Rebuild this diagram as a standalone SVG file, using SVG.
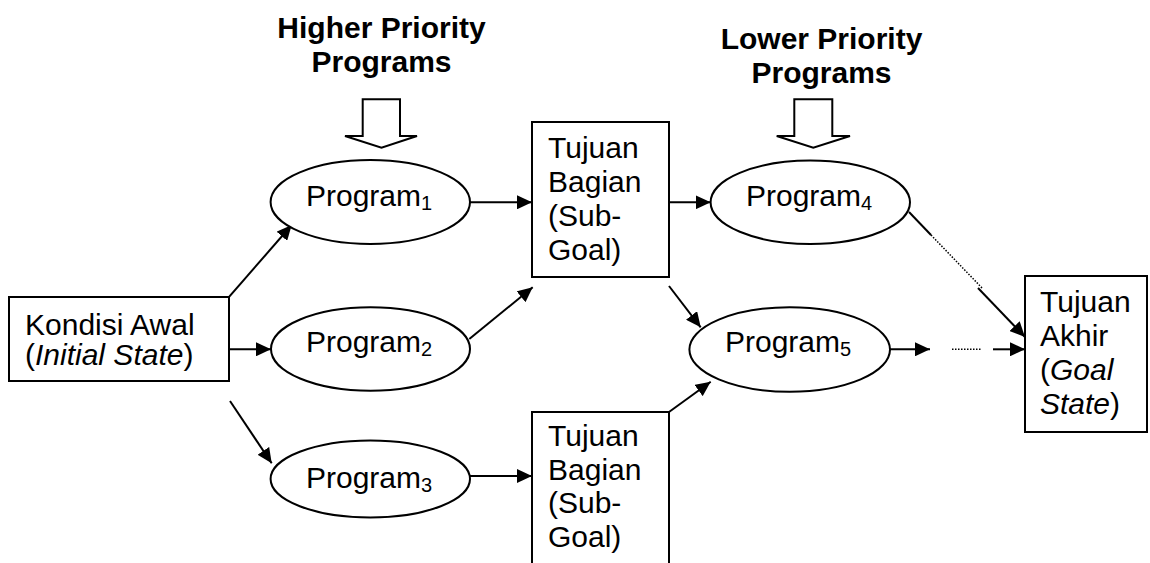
<svg xmlns="http://www.w3.org/2000/svg" width="1150" height="563" viewBox="0 0 1150 563">
<style>
  text { font-family: "Liberation Sans", Arial, sans-serif; font-size: 30px; fill: #000; }
  .title { font-weight: bold; text-anchor: middle; }
  .sub { font-size: 20px; }
  .shape { fill: #fff; stroke: #000; stroke-width: 2; }
  .conn { stroke: #000; stroke-width: 2; fill: none; }
  .dot { stroke: #000; stroke-width: 1.5; stroke-dasharray: 1.5 1.5; fill: none; }
</style>
<defs>
  <marker id="ah" markerUnits="userSpaceOnUse" markerWidth="16" markerHeight="14" refX="15" refY="7" orient="auto">
    <path d="M0,0 L15,7 L0,14 z" fill="#000"/>
  </marker>
</defs>
<rect width="1150" height="563" fill="#fff"/>

<g id="title-higher">
  <text class="title" x="381.5" y="38">Higher Priority</text>
  <text class="title" x="381.5" y="72">Programs</text>
</g>
<g id="title-lower">
  <text class="title" x="821.5" y="49">Lower Priority</text>
  <text class="title" x="821.5" y="83">Programs</text>
</g>

<g id="blockarrow-higher">
  <polygon class="shape" points="362.7,99.3 400,99.3 400,136 417,136 381.5,147.7 345,136 362.7,136"/>
</g>
<g id="blockarrow-lower">
  <polygon class="shape" points="794.3,99.3 832.3,99.3 832.3,136 850,136 813.3,147.7 776.7,136 794.3,136"/>
</g>

<g id="connectors">
  <line class="conn" x1="229.3" y1="296.7" x2="291.7" y2="225" marker-end="url(#ah)"/>
  <line class="conn" x1="229" y1="349.3" x2="271" y2="349.3" marker-end="url(#ah)"/>
  <line class="conn" x1="230" y1="401" x2="271.7" y2="463.3" marker-end="url(#ah)"/>
  <line class="conn" x1="470" y1="202.3" x2="532" y2="202.3" marker-end="url(#ah)"/>
  <line class="conn" x1="469.3" y1="339" x2="532.7" y2="287.3" marker-end="url(#ah)"/>
  <line class="conn" x1="470" y1="476" x2="532" y2="476" marker-end="url(#ah)"/>
  <line class="conn" x1="669" y1="202.3" x2="710.7" y2="202.3" marker-end="url(#ah)"/>
  <line class="conn" x1="669" y1="286" x2="700.7" y2="327.3" marker-end="url(#ah)"/>
  <line class="conn" x1="669" y1="412" x2="710.7" y2="381.7" marker-end="url(#ah)"/>
  <line class="conn" x1="890" y1="349.3" x2="930" y2="349.3" marker-end="url(#ah)"/>
  <line class="dot" x1="952" y1="349.3" x2="982" y2="349.3"/>
  <line class="conn" x1="993" y1="349.3" x2="1025" y2="349.3" marker-end="url(#ah)"/>
  <line class="conn" x1="909" y1="212" x2="931" y2="235"/>
  <line class="dot" x1="931" y1="235" x2="983" y2="289"/>
  <line class="conn" x1="978" y1="288" x2="1025" y2="337" marker-end="url(#ah)"/>
</g>

<g id="kondisi-awal">
  <rect class="shape" x="9" y="297" width="220" height="84"/>
  <text x="25" y="335">Kondisi Awal</text>
  <text x="25" y="365">(<tspan font-style="italic">Initial State</tspan>)</text>
</g>

<g id="program1">
  <ellipse class="shape" cx="370.3" cy="202" rx="99.7" ry="42"/>
  <text x="306" y="206">Program<tspan class="sub" dy="3.5">1</tspan></text>
</g>
<g id="program2">
  <ellipse class="shape" cx="370.5" cy="349" rx="99.5" ry="41.7"/>
  <text x="306" y="352">Program<tspan class="sub" dy="3.5">2</tspan></text>
</g>
<g id="program3">
  <ellipse class="shape" cx="370.3" cy="479" rx="99.7" ry="38.5"/>
  <text x="306" y="488">Program<tspan class="sub" dy="3.5">3</tspan></text>
</g>

<g id="tujuan-bagian-1">
  <rect class="shape" x="532" y="122" width="137" height="155"/>
  <text x="548" y="158">Tujuan</text>
  <text x="548" y="192">Bagian</text>
  <text x="548" y="226">(Sub-</text>
  <text x="548" y="260">Goal)</text>
</g>
<g id="tujuan-bagian-2">
  <rect class="shape" x="532" y="412" width="137" height="170"/>
  <text x="548" y="446">Tujuan</text>
  <text x="548" y="480">Bagian</text>
  <text x="548" y="513">(Sub-</text>
  <text x="548" y="547">Goal)</text>
</g>

<g id="program4">
  <ellipse class="shape" cx="810.3" cy="202.3" rx="99.7" ry="41.7"/>
  <text x="746" y="206">Program<tspan class="sub" dy="3.5">4</tspan></text>
</g>
<g id="program5">
  <ellipse class="shape" cx="789.7" cy="349.5" rx="100.3" ry="42.2"/>
  <text x="725" y="352">Program<tspan class="sub" dy="3.5">5</tspan></text>
</g>

<g id="tujuan-akhir">
  <rect class="shape" x="1025" y="276" width="122" height="156"/>
  <text x="1040" y="312">Tujuan</text>
  <text x="1040" y="346">Akhir</text>
  <text x="1040" y="380">(<tspan font-style="italic">Goal</tspan></text>
  <text x="1040" y="414"><tspan font-style="italic">State</tspan>)</text>
</g>
</svg>
